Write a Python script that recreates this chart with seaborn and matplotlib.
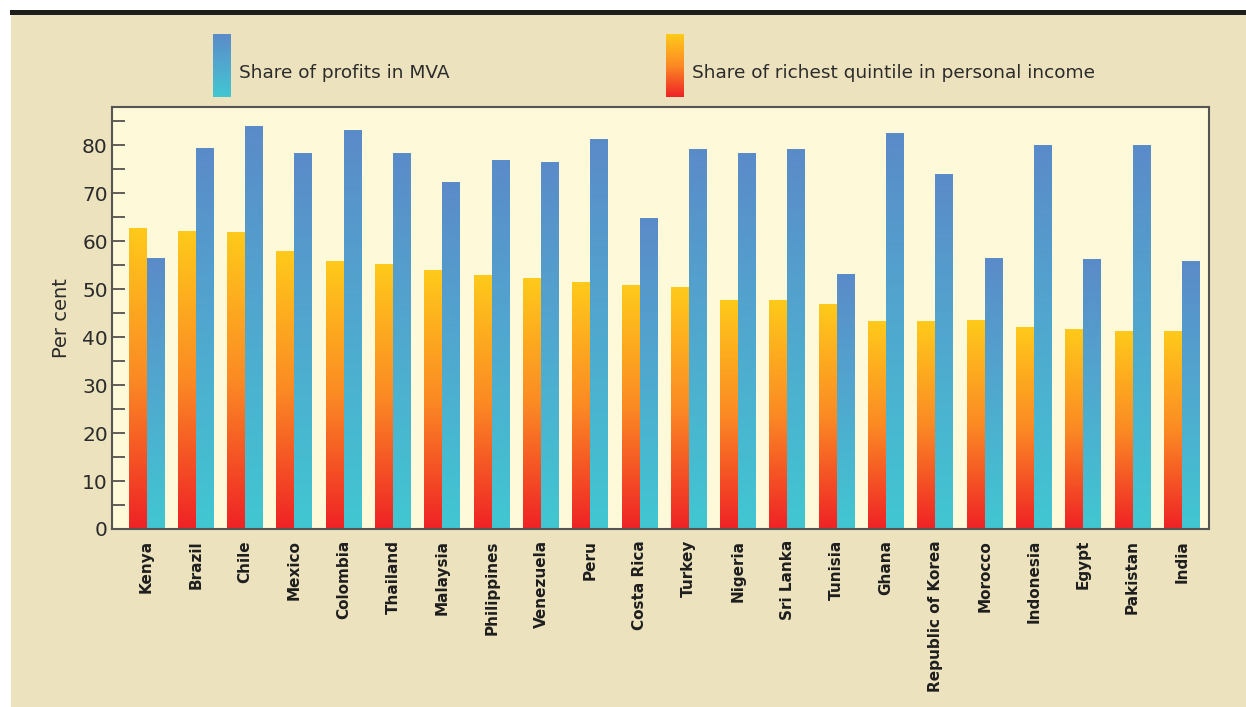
import numpy as np
import pandas as pd
import matplotlib.pyplot as plt
import seaborn as sns
from matplotlib.colors import LinearSegmentedColormap
from matplotlib.patches import Rectangle
from matplotlib.ticker import MultipleLocator

countries = ['Kenya', 'Brazil', 'Chile', 'Mexico', 'Colombia', 'Thailand', 'Malaysia',
             'Philippines', 'Venezuela', 'Peru', 'Costa Rica', 'Turkey', 'Nigeria',
             'Sri Lanka', 'Tunisia', 'Ghana', 'Republic of Korea', 'Morocco',
             'Indonesia', 'Egypt', 'Pakistan', 'India']
richest_quintile = [62.7, 62.1, 61.9, 57.9, 55.8, 55.2, 53.9, 52.9, 52.3, 51.4, 50.8,
                    50.4, 47.7, 47.7, 46.8, 43.3, 43.3, 43.5, 42.0, 41.6, 41.2, 41.2]
profits_mva = [56.5, 79.4, 84.0, 78.4, 83.2, 78.4, 72.2, 76.8, 76.4, 81.2, 64.8,
               79.1, 78.4, 79.1, 53.0, 82.4, 73.9, 56.5, 79.9, 56.2, 79.9, 55.8]
series_names = ['Share of richest quintile in personal income', 'Share of profits in MVA']

W, H = 1246, 707
BEIGE = '#ECE2BE'
PANEL = '#FEF9D8'
warm = LinearSegmentedColormap.from_list('warm', ['#EF2226', '#FB8A24', '#FFCA1B'])
cool = LinearSegmentedColormap.from_list('cool', ['#41C7D2', '#50A9CF', '#5B8BC9'])

df = pd.DataFrame({
    'country': countries * 2,
    'value': richest_quintile + profits_mva,
    'series': [series_names[0]] * len(countries) + [series_names[1]] * len(countries),
})

sns.set_style('ticks')
plt.rcParams['font.family'] = ['DejaVu Sans']

fig = plt.figure(figsize=(W / 100, H / 100), dpi=100, facecolor='white')
fig.add_artist(Rectangle((11 / W, 0), 1, 1 - 15 / H, transform=fig.transFigure,
                         facecolor=BEIGE, edgecolor='none', zorder=-10))
fig.add_artist(Rectangle((10 / W, 1 - 15 / H), 1, 5 / H, transform=fig.transFigure,
                         facecolor='#1E1E1E', edgecolor='none', zorder=-9))

ax = fig.add_axes([112 / W, 1 - 529 / H, (1209 - 112) / W, (529 - 107) / H])
ax.set_facecolor(PANEL)

sns.barplot(data=df, x='country', y='value', hue='series', order=countries,
            hue_order=series_names, palette=['#FB8A24', '#50A9CF'],
            width=0.73, gap=0, legend=False, ax=ax)

# replace flat fills with vertical gradients
grad = np.linspace(0, 1, 256).reshape(-1, 1)
for container, cmap in zip(ax.containers, [warm, cool]):
    for bar in container:
        x0, y0 = bar.get_x(), bar.get_y()
        w, h = bar.get_width(), bar.get_height()
        ax.imshow(grad, extent=[x0, x0 + w, y0, y0 + h], origin='lower', cmap=cmap,
                  aspect='auto', zorder=2, interpolation='bilinear')
        bar.set_visible(False)

ax.set_xlim(-0.7, len(countries) - 0.45)
ax.set_ylim(0, 88)
ax.yaxis.set_major_locator(MultipleLocator(10))
ax.yaxis.set_minor_locator(MultipleLocator(5))
ax.tick_params(axis='y', which='both', direction='in', length=9, width=1.2,
               color='#444444', labelsize=14.5, labelcolor='#2B2B2B', pad=3)
ax.tick_params(axis='x', length=0, pad=8)
ax.set_xticks(range(len(countries)))
ax.set_xticklabels(countries, rotation=90, fontsize=11, fontweight='bold',
                   color='#1E1E1E', va='top', ha='center')
ax.set_xlabel('')
ax.set_ylabel('Per cent', fontsize=14, color='#2B2B2B', labelpad=8)
for side in ['left', 'right', 'top', 'bottom']:
    ax.spines[side].set_visible(True)
    ax.spines[side].set_color('#555555')
    ax.spines[side].set_linewidth(1.5)

# legend swatches with the same gradients
for px, cmap, label in [(213, cool, series_names[1]), (666, warm, series_names[0])]:
    lax = fig.add_axes([px / W, 1 - 97 / H, 18 / W, 63 / H])
    lax.imshow(grad, origin='lower', cmap=cmap, aspect='auto', extent=[0, 1, 0, 1])
    lax.axis('off')
    fig.text((px + 26) / W, 1 - 73 / H, label, fontsize=13.3, color='#2B2B2B',
             ha='left', va='center')

fig.savefig('out.png', dpi=100, facecolor=fig.get_facecolor())
